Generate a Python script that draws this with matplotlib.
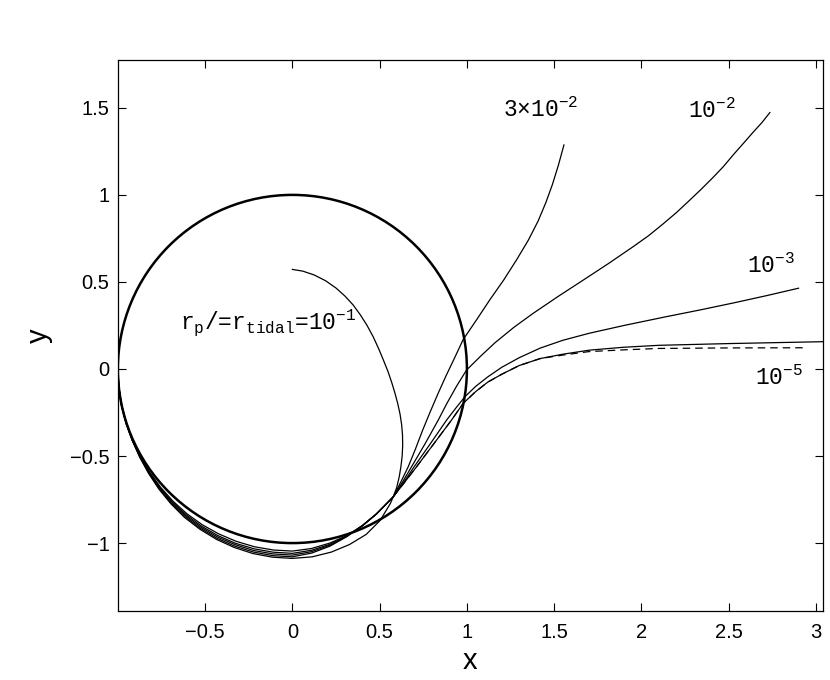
import numpy as np
import matplotlib
matplotlib.use('Agg')
import matplotlib.pyplot as plt
from matplotlib.patches import Circle

plt.rcParams['font.family'] = ['Liberation Sans', 'DejaVu Sans']
plt.rcParams['mathtext.fontset'] = 'custom'
plt.rcParams['mathtext.rm'] = 'Liberation Mono'
plt.rcParams['mathtext.it'] = 'Liberation Mono'

# Data
circle_radius = 1.0

# lower loop of every orbit, read as angle (deg) and distance from the centre
arc_angle = [180, 186, 192, 198, 204, 210, 216, 222, 228, 234, 240, 246, 252, 258, 264,
             270, 276, 282, 288, 294, 300, 306]
arc_r_1e5 = [1.000, 1.000, 1.000, 1.001, 1.003, 1.006, 1.010, 1.016, 1.022, 1.028, 1.033,
             1.037, 1.041, 1.044, 1.0455, 1.046, 1.037, 1.023, 1.007, 0.985, 0.962, 0.940]
arc_r_1e3 = [1.000, 1.000, 1.001, 1.002, 1.004, 1.007, 1.013, 1.020, 1.028, 1.035, 1.042,
             1.048, 1.053, 1.056, 1.058, 1.059, 1.047, 1.030, 1.009, 0.985, 0.962, 0.940]
arc_r_1e2 = [1.000, 1.000, 1.001, 1.002, 1.004, 1.008, 1.015, 1.023, 1.032, 1.041, 1.049,
             1.056, 1.061, 1.066, 1.068, 1.069, 1.055, 1.035, 1.010, 0.986, 0.962, 0.940]
arc_r_3e2 = [1.000, 1.000, 1.001, 1.002, 1.005, 1.009, 1.017, 1.027, 1.037, 1.047, 1.056,
             1.064, 1.070, 1.075, 1.078, 1.079, 1.063, 1.040, 1.012, 0.986, 0.962, 0.940]
arc_r_1e1 = [1.000, 1.000, 1.001, 1.003, 1.005, 1.011, 1.019, 1.030, 1.041, 1.053, 1.062,
             1.071, 1.078, 1.084, 1.087, 1.088, 1.085, 1.075, 1.060, 1.040, 1.005, 0.955]

# outgoing parts (x, y)
x_1e1 = [0.578, 0.598, 0.612, 0.622, 0.629, 0.632, 0.631, 0.626, 0.617, 0.604, 0.588, 0.57,
         0.548, 0.522, 0.495, 0.463, 0.428, 0.39, 0.348, 0.30, 0.25, 0.19, 0.125, 0.06, 0.0]
y_1e1 = [-0.734, -0.68, -0.62, -0.56, -0.50, -0.44, -0.38, -0.32, -0.26, -0.2, -0.14, -0.08,
         -0.015, 0.05, 0.115, 0.185, 0.25, 0.31, 0.368, 0.42, 0.465, 0.507, 0.54, 0.562, 0.572]

x_3e2 = [0.578, 0.622, 0.664, 0.705, 0.745, 0.788, 0.835, 0.88, 0.93, 0.979, 1.055, 1.131,
         1.21, 1.284, 1.352, 1.408, 1.452, 1.49, 1.524, 1.556]
y_3e2 = [-0.734, -0.648, -0.561, -0.46, -0.355, -0.25, -0.14, -0.04, 0.065, 0.17, 0.282, 0.397,
         0.51, 0.626, 0.74, 0.85, 0.955, 1.06, 1.17, 1.287]

x_1e2 = [0.578, 0.632, 0.683, 0.76, 0.836, 0.884, 0.94, 0.998, 1.08, 1.16, 1.27, 1.38, 1.52,
         1.667, 1.81, 1.953, 2.04, 2.12, 2.2, 2.278, 2.345, 2.41, 2.47, 2.526, 2.585, 2.64,
         2.69, 2.736]
y_1e2 = [-0.734, -0.648, -0.561, -0.43, -0.293, -0.2, -0.1, -0.006, 0.075, 0.15, 0.24, 0.32,
         0.415, 0.511, 0.605, 0.703, 0.765, 0.83, 0.898, 0.971, 1.035, 1.1, 1.163, 1.23, 1.297,
         1.36, 1.415, 1.473]

x_1e3 = [0.578, 0.64, 0.698, 0.79, 0.884, 0.94, 0.989, 1.05, 1.12, 1.2, 1.3, 1.42, 1.55, 1.7,
         1.9, 2.14, 2.34, 2.53, 2.72, 2.9]
y_1e3 = [-0.734, -0.648, -0.561, -0.43, -0.293, -0.22, -0.159, -0.1, -0.045, 0.01, 0.065, 0.12,
         0.165, 0.205, 0.25, 0.30, 0.34, 0.38, 0.422, 0.464]

x_1e5 = [0.578, 0.645, 0.712, 0.81, 0.912, 0.979, 1.05, 1.12, 1.2, 1.3, 1.42, 1.55, 1.7, 1.9,
         2.1, 2.5, 3.1]
y_1e5 = [-0.734, -0.648, -0.561, -0.43, -0.293, -0.197, -0.13, -0.075, -0.03, 0.02, 0.06,
         0.085, 0.108, 0.125, 0.136, 0.146, 0.158]

# dashed reference curve
x_dash = [0.578, 0.645, 0.712, 0.81, 0.912, 0.979, 1.05, 1.12, 1.2, 1.3, 1.42, 1.55, 1.7,
          1.9, 2.1, 2.5, 2.95]
y_dash = [-0.734, -0.648, -0.561, -0.43, -0.293, -0.197, -0.13, -0.075, -0.03, 0.02, 0.06,
          0.08, 0.10, 0.11, 0.118, 0.121, 0.122]

labels = ['3\u00d710$^{-2}$', '10$^{-2}$', '10$^{-3}$', '10$^{-5}$',
          'r$_\\mathrm{p}$/=r$_\\mathrm{tidal}$=10$^{-1}$']
label_x = [1.206, 2.266, 2.603, 2.65, -0.645]
label_y = [1.448, 1.443, 0.553, -0.092, 0.228]


def orbit(arc_r, xs, ys):
    t = np.radians(arc_angle)
    r = np.array(arc_r)
    return (np.concatenate([r * np.cos(t), xs]),
            np.concatenate([r * np.sin(t), ys]))


# Plot
fig = plt.figure(figsize=(8.3, 6.8), dpi=100)
ax = fig.add_axes([0.142, 0.1015, 0.8495, 0.8103])

ax.add_patch(Circle((0, 0), circle_radius, fill=False, lw=1.8, color='k'))
for arc_r, xs, ys in [(arc_r_1e1, x_1e1, y_1e1), (arc_r_3e2, x_3e2, y_3e2),
                      (arc_r_1e2, x_1e2, y_1e2), (arc_r_1e3, x_1e3, y_1e3),
                      (arc_r_1e5, x_1e5, y_1e5)]:
    ox, oy = orbit(arc_r, xs, ys)
    ax.plot(ox, oy, 'k-', lw=0.9)
ax.plot(x_dash, y_dash, 'k--', lw=0.9, dashes=(6, 4))

for t, lx, ly in zip(labels, label_x, label_y):
    ax.text(lx, ly, t, fontfamily='Liberation Mono', fontsize=16.5, ha='left', va='baseline')

ax.set_xlim(-1.0, 3.04)
ax.set_ylim(-1.39, 1.775)
ax.set_xticks([-0.5, 0, 0.5, 1, 1.5, 2, 2.5, 3])
ax.set_xticklabels(['\u22120.5', '0', '0.5', '1', '1.5', '2', '2.5', '3'])
ax.set_yticks([-1, -0.5, 0, 0.5, 1, 1.5])
ax.set_yticklabels(['\u22121', '\u22120.5', '0', '0.5', '1', '1.5'])
ax.tick_params(direction='in', top=True, right=True, length=6, width=0.8, labelsize=14.5)
ax.tick_params(axis='x', pad=9)
ax.tick_params(axis='y', pad=6)
for s in ax.spines.values():
    s.set_linewidth(0.9)
ax.set_xlabel('x', fontsize=21, labelpad=3)
ax.set_ylabel('y', fontsize=21, labelpad=12)

plt.savefig('out.png', dpi=100)
